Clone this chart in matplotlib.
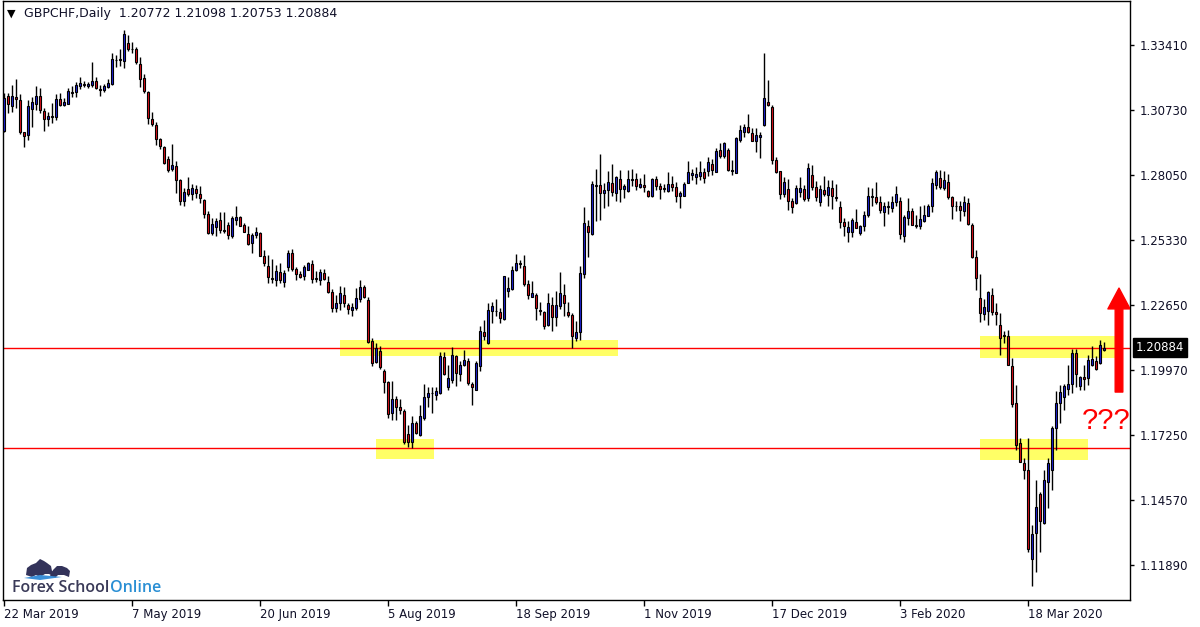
import matplotlib
matplotlib.use("Agg")
import matplotlib.pyplot as plt
from matplotlib.patches import Rectangle, FancyArrowPatch, Polygon

# GBPCHF daily candles, 22 Mar 2019 .. early Apr 2020
opens = [
    1.2987, 1.3132, 1.3090, 1.3128, 1.3114, 1.2981, 1.2969, 1.3077, 1.3100, 1.3132,
    1.3070, 1.3035, 1.3049, 1.3046, 1.3119, 1.3093, 1.3100, 1.3148, 1.3147, 1.3172,
    1.3183, 1.3172, 1.3175, 1.3194, 1.3161, 1.3157, 1.3168, 1.3183, 1.3282, 1.3285,
    1.3277, 1.3350, 1.3327, 1.3327, 1.3264, 1.3205, 1.3147, 1.3036, 1.3011, 1.2953,
    1.2920, 1.2870, 1.2828, 1.2842, 1.2784, 1.2697, 1.2746, 1.2724, 1.2746, 1.2725,
    1.2701, 1.2641, 1.2562, 1.2590, 1.2616, 1.2576, 1.2597, 1.2549, 1.2618, 1.2630,
    1.2597, 1.2558, 1.2520, 1.2554, 1.2565, 1.2468, 1.2427, 1.2377, 1.2370, 1.2402,
    1.2362, 1.2424, 1.2481, 1.2415, 1.2394, 1.2383, 1.2412, 1.2434, 1.2377, 1.2369,
    1.2398, 1.2361, 1.2318, 1.2251, 1.2272, 1.2305, 1.2265, 1.2243, 1.2251, 1.2289,
    1.2340, 1.2286, 1.2117, 1.2030, 1.2075, 1.1992, 1.1944, 1.1817, 1.1876, 1.1843,
    1.1826, 1.1731, 1.1699, 1.1775, 1.1727, 1.1796, 1.1882, 1.1898, 1.1893, 1.1902,
    1.2050, 1.1923, 1.1955, 1.2054, 1.1980, 1.2016, 1.2031, 1.1938, 1.1914, 1.2010,
    1.2154, 1.2107, 1.2242, 1.2242, 1.2237, 1.2208, 1.2321, 1.2331, 1.2408, 1.2439,
    1.2428, 1.2353, 1.2300, 1.2307, 1.2245, 1.2236, 1.2180, 1.2263, 1.2215, 1.2259,
    1.2307, 1.2236, 1.2224, 1.2130, 1.2151, 1.2392, 1.2593, 1.2559, 1.2760, 1.2763,
    1.2731, 1.2742, 1.2772, 1.2731, 1.2786, 1.2745, 1.2738, 1.2785, 1.2787, 1.2754,
    1.2761, 1.2738, 1.2716, 1.2786, 1.2758, 1.2749, 1.2738, 1.2765, 1.2753, 1.2717,
    1.2718, 1.2772, 1.2803, 1.2797, 1.2801, 1.2816, 1.2822, 1.2850, 1.2818, 1.2906,
    1.2884, 1.2906, 1.2821, 1.2814, 1.2949, 1.2984, 1.3004, 1.2977, 1.2946, 1.2963,
    1.3009, 1.3105, 1.3086, 1.2866, 1.2819, 1.2723, 1.2745, 1.2696, 1.2687, 1.2735,
    1.2747, 1.2708, 1.2805, 1.2754, 1.2690, 1.2743, 1.2722, 1.2750, 1.2712, 1.2671,
    1.2607, 1.2566, 1.2566, 1.2610, 1.2563, 1.2591, 1.2636, 1.2712, 1.2712, 1.2693,
    1.2651, 1.2671, 1.2665, 1.2690, 1.2694, 1.2549, 1.2625, 1.2656, 1.2598, 1.2591,
    1.2615, 1.2635, 1.2674, 1.2763, 1.2791, 1.2750, 1.2774, 1.2712, 1.2674, 1.2676,
    1.2653, 1.2687, 1.2598, 1.2463, 1.2294, 1.2228, 1.2238, 1.2307, 1.2234, 1.2183,
    1.2141, 1.2135, 1.2014, 1.1858, 1.1692, 1.1609, 1.1582, 1.1211, 1.1319, 1.1481,
    1.1361, 1.1531, 1.1579, 1.1755, 1.1858, 1.1882, 1.1918, 1.1937, 1.2066, 1.1930,
    1.1966, 1.1962, 1.2017, 1.2034, 1.2024, 1.20772,
]
highs = [
    1.3143, 1.3143, 1.3177, 1.3202, 1.3139, 1.2984, 1.3115, 1.3129, 1.3173, 1.3166,
    1.3081, 1.3064, 1.3101, 1.3141, 1.3143, 1.3122, 1.3163, 1.3173, 1.3188, 1.3209,
    1.3194, 1.3188, 1.3274, 1.3208, 1.3175, 1.3180, 1.3202, 1.3309, 1.3302, 1.3327,
    1.3403, 1.3385, 1.3354, 1.3336, 1.3291, 1.3222, 1.3153, 1.3064, 1.3025, 1.2956,
    1.2926, 1.2884, 1.2933, 1.2863, 1.2788, 1.2749, 1.2797, 1.2767, 1.2763, 1.2760,
    1.2703, 1.2656, 1.2625, 1.2625, 1.2652, 1.2652, 1.2608, 1.2632, 1.2676, 1.2634,
    1.2604, 1.2593, 1.2562, 1.2587, 1.2568, 1.2491, 1.2473, 1.2455, 1.2431, 1.2438,
    1.2410, 1.2491, 1.2496, 1.2424, 1.2404, 1.2431, 1.2445, 1.2452, 1.2404, 1.2413,
    1.2415, 1.2383, 1.2332, 1.2307, 1.2344, 1.2341, 1.2275, 1.2275, 1.2334, 1.2369,
    1.2348, 1.2300, 1.2127, 1.2106, 1.2093, 1.1999, 1.1948, 1.1951, 1.1886, 1.1875,
    1.1833, 1.1768, 1.1803, 1.1782, 1.1851, 1.1938, 1.1925, 1.1925, 1.1927, 1.2068,
    1.2072, 1.2017, 1.2089, 1.2059, 1.2031, 1.2079, 1.2045, 1.1944, 1.2031, 1.2179,
    1.2204, 1.2273, 1.2277, 1.2291, 1.2252, 1.2386, 1.2381, 1.2428, 1.2477, 1.2452,
    1.2472, 1.2370, 1.2365, 1.2314, 1.2276, 1.2242, 1.2314, 1.2300, 1.2321, 1.2401,
    1.2352, 1.2277, 1.2231, 1.2197, 1.2425, 1.2671, 1.2618, 1.2779, 1.2829, 1.2891,
    1.2769, 1.2821, 1.2850, 1.2801, 1.2825, 1.2765, 1.2825, 1.2829, 1.2811, 1.2793,
    1.2807, 1.2742, 1.2790, 1.2801, 1.2769, 1.2765, 1.2818, 1.2800, 1.2776, 1.2739,
    1.2776, 1.2862, 1.2829, 1.2836, 1.2862, 1.2834, 1.2877, 1.2870, 1.2915, 1.2938,
    1.2942, 1.2915, 1.2866, 1.2963, 1.3011, 1.3015, 1.3057, 1.3000, 1.2998, 1.2981,
    1.3308, 1.3198, 1.3094, 1.2880, 1.2821, 1.2797, 1.2786, 1.2707, 1.2763, 1.2797,
    1.2763, 1.2853, 1.2846, 1.2777, 1.2763, 1.2801, 1.2784, 1.2784, 1.2767, 1.2698,
    1.2625, 1.2615, 1.2625, 1.2662, 1.2598, 1.2653, 1.2754, 1.2750, 1.2774, 1.2718,
    1.2690, 1.2697, 1.2715, 1.2759, 1.2712, 1.2639, 1.2708, 1.2667, 1.2639, 1.2674,
    1.2680, 1.2683, 1.2791, 1.2823, 1.2823, 1.2819, 1.2809, 1.2718, 1.2697, 1.2698,
    1.2715, 1.2708, 1.2605, 1.2494, 1.2394, 1.2289, 1.2324, 1.2335, 1.2273, 1.2231,
    1.2155, 1.2162, 1.2045, 1.1934, 1.1713, 1.1630, 1.1713, 1.1354, 1.1540, 1.1488,
    1.1582, 1.1630, 1.1764, 1.1907, 1.1934, 1.1938, 1.2017, 1.2083, 1.2083, 1.1969,
    1.2017, 1.2059, 1.2093, 1.2052, 1.2118, 1.21098,
]
lows = [
    1.2981, 1.3060, 1.3064, 1.3081, 1.2973, 1.2918, 1.2950, 1.3001, 1.3074, 1.3060,
    1.2987, 1.3005, 1.3019, 1.3032, 1.3090, 1.3090, 1.3097, 1.3125, 1.3125, 1.3162,
    1.3169, 1.3163, 1.3168, 1.3161, 1.3133, 1.3146, 1.3163, 1.3177, 1.3253, 1.3257,
    1.3249, 1.3318, 1.3310, 1.3263, 1.3169, 1.3143, 1.3014, 1.3005, 1.2929, 1.2912,
    1.2848, 1.2818, 1.2821, 1.2731, 1.2680, 1.2677, 1.2718, 1.2701, 1.2708, 1.2687,
    1.2625, 1.2560, 1.2553, 1.2551, 1.2562, 1.2562, 1.2538, 1.2542, 1.2597, 1.2593,
    1.2567, 1.2514, 1.2482, 1.2542, 1.2466, 1.2428, 1.2358, 1.2358, 1.2345, 1.2355,
    1.2339, 1.2404, 1.2404, 1.2369, 1.2376, 1.2369, 1.2408, 1.2355, 1.2362, 1.2348,
    1.2369, 1.2314, 1.2234, 1.2234, 1.2245, 1.2258, 1.2228, 1.2221, 1.2245, 1.2279,
    1.2293, 1.2106, 1.2012, 1.2023, 1.1999, 1.1902, 1.1796, 1.1789, 1.1789, 1.1814,
    1.1690, 1.1676, 1.1672, 1.1731, 1.1723, 1.1789, 1.1844, 1.1817, 1.1869, 1.1897,
    1.1976, 1.1914, 1.1941, 1.1930, 1.1948, 1.2010, 1.1934, 1.1849, 1.1911, 1.1990,
    1.2121, 1.2104, 1.2190, 1.2218, 1.2190, 1.2204, 1.2300, 1.2325, 1.2404, 1.2418,
    1.2345, 1.2289, 1.2298, 1.2201, 1.2224, 1.2165, 1.2176, 1.2155, 1.2176, 1.2248,
    1.2218, 1.2215, 1.2086, 1.2114, 1.2121, 1.2377, 1.2464, 1.2555, 1.2611, 1.2617,
    1.2669, 1.2677, 1.2718, 1.2698, 1.2691, 1.2707, 1.2735, 1.2760, 1.2742, 1.2749,
    1.2735, 1.2714, 1.2714, 1.2742, 1.2703, 1.2735, 1.2732, 1.2739, 1.2691, 1.2669,
    1.2718, 1.2769, 1.2783, 1.2765, 1.2783, 1.2769, 1.2801, 1.2804, 1.2815, 1.2876,
    1.2873, 1.2821, 1.2804, 1.2811, 1.2942, 1.2963, 1.2977, 1.2945, 1.2898, 1.2876,
    1.3007, 1.3091, 1.2848, 1.2814, 1.2705, 1.2714, 1.2659, 1.2645, 1.2682, 1.2714,
    1.2698, 1.2694, 1.2743, 1.2694, 1.2676, 1.2718, 1.2674, 1.2664, 1.2694, 1.2584,
    1.2549, 1.2528, 1.2545, 1.2584, 1.2553, 1.2570, 1.2628, 1.2674, 1.2685, 1.2646,
    1.2591, 1.2643, 1.2650, 1.2674, 1.2539, 1.2528, 1.2598, 1.2595, 1.2584, 1.2581,
    1.2607, 1.2632, 1.2650, 1.2747, 1.2745, 1.2740, 1.2705, 1.2622, 1.2653, 1.2615,
    1.2635, 1.2598, 1.2458, 1.2328, 1.2193, 1.2204, 1.2180, 1.2224, 1.2183, 1.2059,
    1.2107, 1.2017, 1.1844, 1.1665, 1.1616, 1.1543, 1.1239, 1.1101, 1.1156, 1.1239,
    1.1358, 1.1423, 1.1499, 1.1665, 1.1775, 1.1831, 1.1893, 1.1902, 1.1927, 1.1911,
    1.1911, 1.1934, 1.2010, 1.1996, 1.2021, 1.20753,
]
closes = [
    1.3122, 1.3097, 1.3132, 1.3118, 1.2980, 1.2965, 1.3090, 1.3106, 1.3132, 1.3072,
    1.3035, 1.3049, 1.3043, 1.3119, 1.3093, 1.3107, 1.3152, 1.3145, 1.3177, 1.3186,
    1.3177, 1.3181, 1.3194, 1.3163, 1.3155, 1.3173, 1.3186, 1.3285, 1.3280, 1.3280,
    1.3389, 1.3325, 1.3324, 1.3271, 1.3201, 1.3150, 1.3039, 1.3014, 1.2952, 1.2922,
    1.2853, 1.2825, 1.2846, 1.2782, 1.2698, 1.2735, 1.2724, 1.2749, 1.2728, 1.2708,
    1.2641, 1.2565, 1.2601, 1.2614, 1.2576, 1.2573, 1.2553, 1.2625, 1.2629, 1.2594,
    1.2569, 1.2517, 1.2556, 1.2568, 1.2470, 1.2437, 1.2379, 1.2374, 1.2406, 1.2370,
    1.2398, 1.2481, 1.2416, 1.2392, 1.2380, 1.2423, 1.2439, 1.2374, 1.2372, 1.2401,
    1.2374, 1.2318, 1.2251, 1.2274, 1.2314, 1.2272, 1.2247, 1.2257, 1.2294, 1.2340,
    1.2297, 1.2113, 1.2026, 1.2086, 1.2006, 1.1944, 1.1813, 1.1876, 1.1842, 1.1828,
    1.1695, 1.1699, 1.1775, 1.1734, 1.1806, 1.1884, 1.1900, 1.1902, 1.1909, 1.2054,
    1.1978, 1.1962, 1.2059, 1.1983, 1.2017, 1.2038, 1.1941, 1.1925, 1.2025, 1.2158,
    1.2135, 1.2245, 1.2259, 1.2238, 1.2211, 1.2383, 1.2335, 1.2411, 1.2439, 1.2435,
    1.2353, 1.2305, 1.2314, 1.2252, 1.2238, 1.2176, 1.2273, 1.2215, 1.2263, 1.2314,
    1.2273, 1.2222, 1.2135, 1.2153, 1.2397, 1.2605, 1.2567, 1.2765, 1.2763, 1.2731,
    1.2742, 1.2776, 1.2735, 1.2796, 1.2746, 1.2758, 1.2786, 1.2787, 1.2760, 1.2765,
    1.2752, 1.2718, 1.2786, 1.2760, 1.2745, 1.2745, 1.2765, 1.2756, 1.2718, 1.2731,
    1.2765, 1.2816, 1.2812, 1.2808, 1.2818, 1.2793, 1.2857, 1.2825, 1.2904, 1.2883,
    1.2937, 1.2826, 1.2823, 1.2956, 1.2989, 1.3003, 1.2980, 1.2946, 1.2970, 1.2970,
    1.3122, 1.3094, 1.2865, 1.2818, 1.2723, 1.2774, 1.2698, 1.2673, 1.2749, 1.2751,
    1.2704, 1.2832, 1.2752, 1.2712, 1.2745, 1.2726, 1.2754, 1.2715, 1.2708, 1.2609,
    1.2591, 1.2588, 1.2618, 1.2586, 1.2593, 1.2639, 1.2718, 1.2718, 1.2690, 1.2657,
    1.2674, 1.2676, 1.2693, 1.2726, 1.2559, 1.2629, 1.2653, 1.2598, 1.2591, 1.2622,
    1.2638, 1.2676, 1.2770, 1.2816, 1.2752, 1.2781, 1.2711, 1.2674, 1.2676, 1.2657,
    1.2691, 1.2600, 1.2462, 1.2376, 1.2231, 1.2258, 1.2318, 1.2235, 1.2229, 1.2130,
    1.2136, 1.2017, 1.1854, 1.1685, 1.1616, 1.1579, 1.1253, 1.1316, 1.1427, 1.1368,
    1.1538, 1.1609, 1.1757, 1.1858, 1.1904, 1.1931, 1.1937, 1.2066, 1.1978, 1.1966,
    1.1960, 1.2038, 1.2041, 1.2001, 1.2099, 1.20884,
]

date_labels = ["22 Mar 2019", "7 May 2019", "20 Jun 2019", "5 Aug 2019",
               "18 Sep 2019", "1 Nov 2019", "17 Dec 2019", "3 Feb 2020", "18 Mar 2020"]
date_bars = [0, 32, 64, 96, 128, 160, 192, 224, 256]   # bar index of each label
price_ticks = [1.33410, 1.30730, 1.28050, 1.25330, 1.22650,
               1.19970, 1.17250, 1.14570, 1.11890]

# support / resistance levels and the yellow zones (bar from, bar to, low, high)
levels = [1.2087, 1.1672]
zones = [
    (84, 153.5, 1.2053, 1.2120),
    (93, 107.5, 1.1626, 1.1709),
    (244, 278, 1.2045, 1.2136),
    (244, 271, 1.1622, 1.1709),
]

BULL = "#1e22d8"
BEAR = "#e0101a"
W, H = 1200, 627

fig = plt.figure(figsize=(12, 6.27), dpi=100)
ax = fig.add_axes([3 / W, 27 / H, 1127 / W, 599 / H])

# zones and lines under the candles
for x0, x1, lo, hi in zones:
    ax.add_patch(Rectangle((x0, lo), x1 - x0, hi - lo, facecolor="#ffff66",
                           edgecolor="none", zorder=0))
for lv in levels:
    ax.axhline(lv, color="#ff0000", linewidth=1.0, zorder=1)

n = len(closes)
xs = list(range(n))
ax.vlines(xs, lows, highs, color="black", linewidth=1.0, zorder=2)
bottoms = [min(o, c) for o, c in zip(opens, closes)]
heights = [max(abs(c - o), 0.00004) for o, c in zip(opens, closes)]
colors = [BULL if c >= o else BEAR for o, c in zip(opens, closes)]
ax.bar(xs, heights, bottom=bottoms, width=0.72, color=colors,
       edgecolor="black", linewidth=0.8, zorder=3)

ax.set_xlim(-0.25, 281.5)
ax.set_ylim(1.1042, 1.3525)

# MT4 style axes: prices on the right, dates at the bottom
ax.yaxis.tick_right()
ax.set_yticks(price_ticks)
ax.set_yticklabels([f"{p:.5f}" for p in price_ticks])
ax.set_xticks(date_bars)
ax.set_xticklabels(date_labels, ha="left")
ax.tick_params(axis="y", direction="out", length=3, width=1, pad=4,
               labelsize=8.5, labelcolor="#101028")
ax.tick_params(axis="x", direction="out", length=4, width=1, pad=2,
               labelsize=8.5, labelcolor="#101028")
for sp in ax.spines.values():
    sp.set_linewidth(1.0)
    sp.set_color("black")

# current price box, just right of the price axis
ax.text(1.0 + 6 / 1127, closes[-1], f"{closes[-1]:.5f}",
        transform=ax.get_yaxis_transform(), ha="left", va="center",
        fontsize=8.5, color="white",
        bbox=dict(boxstyle="square,pad=0.22", facecolor="black", edgecolor="black"),
        zorder=10, clip_on=False)

# header
fig.text(7 / W, 1 - 14 / H, "▼", fontsize=8, va="center", ha="left")
fig.text(24 / W, 1 - 14 / H,
         f"GBPCHF,Daily  {opens[-1]:.5f} {highs[-1]:.5f} {lows[-1]:.5f} {closes[-1]:.5f}",
         fontsize=9, va="center", ha="left", color="#101028")

# arrow and question marks
arrow = FancyArrowPatch((278.75, 1.1904), (278.75, 1.2335),
                        arrowstyle="simple,head_length=15,head_width=16,tail_width=5.5",
                        mutation_scale=1, color="#ff0000", shrinkA=0, shrinkB=0,
                        zorder=6)
ax.add_patch(arrow)
ax.text(275.6, 1.1785, "???", fontsize=21, color="#ff0000", ha="center",
        va="center", family=["Liberation Sans", "DejaVu Sans"], zorder=6)

# logo
t1 = fig.text(12 / W, 1 - 588 / H, "Forex School", fontsize=11.5,
              fontweight="semibold", color="#3a3a58",
              family=["Open Sans", "DejaVu Sans"], va="center", ha="left")
fig.canvas.draw()
x_end = t1.get_window_extent().x1
fig.text((x_end + 1) / W, 1 - 588 / H, "Online", fontsize=11.5,
         fontweight="semibold", color="#2a8fd4",
         family=["Open Sans", "DejaVu Sans"], va="center", ha="left")
bull = [(26, 575), (27, 568), (31, 565), (36, 563), (40, 559), (44, 561), (47, 563),
        (51, 566), (52, 571), (55, 572), (53, 576), (49, 574), (45, 574), (40, 577),
        (36, 575), (32, 577)]
bear = [(50, 576), (53, 570), (57, 566), (62, 566), (67, 568), (70, 571), (69, 577),
        (64, 575), (58, 575), (55, 578)]
for shape in (bull, bear):
    fig.patches.append(Polygon([(x / W, 1 - y / H) for x, y in shape], closed=True,
                               transform=fig.transFigure, facecolor="#33335a",
                               edgecolor="none"))
fig.patches.append(Polygon([(x / W, 1 - y / H) for x, y in
                            [(24, 578), (40, 575), (62, 577), (40, 580)]],
                           closed=True, transform=fig.transFigure,
                           facecolor="#3b8fd8", edgecolor="none"))

fig.savefig("out.png", dpi=100)
